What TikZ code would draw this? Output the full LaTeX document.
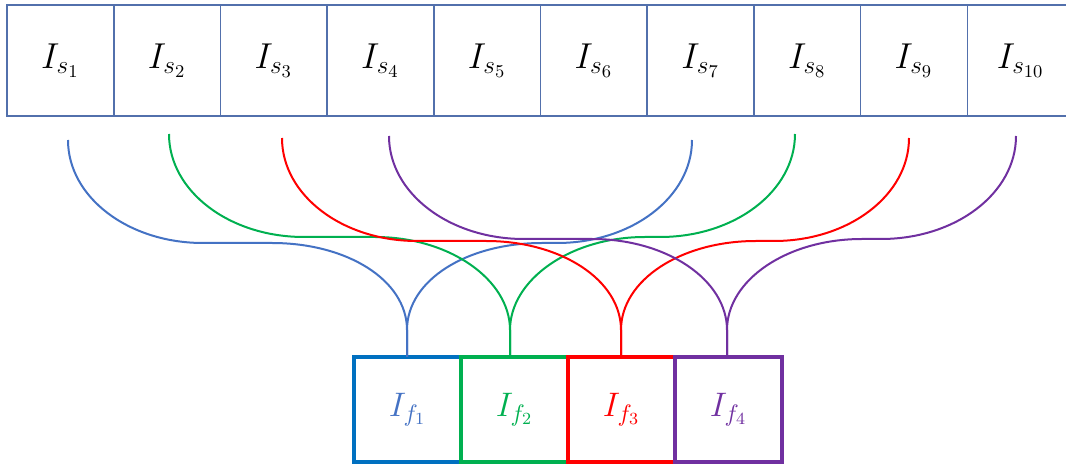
\RequirePackage{fix-cm}
\documentclass[tikz,border=0pt]{standalone}
\usepackage{tikz}
\usetikzlibrary{calc}

\begin{document}
\begin{tikzpicture}[
    x=0.5pt, y=-0.5pt,
    every node/.style={font=\fontsize{18}{21}\selectfont},
]
% Colors
\definecolor{rowstroke}{RGB}{82,112,172}
\definecolor{fblue}{RGB}{0,112,192}
\definecolor{lblue}{RGB}{68,114,196}
\definecolor{fgreen}{RGB}{0,176,80}
\definecolor{fred}{RGB}{255,0,0}
\definecolor{fpurple}{RGB}{112,48,160}
% ============================================================
% Styles
% ============================================================
\tikzset{
    sbox/.style={
        draw=rowstroke,
        line width=0.8pt,
        minimum width=53.35pt,
        minimum height=55.5pt,
        inner sep=0pt,
        outer sep=0pt,
    },
    fbox/.style={
        line width=1.8pt,
        minimum width=53.5pt,
        minimum height=52.5pt,
        inner sep=0pt,
        outer sep=0pt,
        font=\fontsize{17}{20}\selectfont,
    },
    link/.style={line width=1pt},
}
\useasboundingbox (0,0) rectangle (1066,464);
\clip (0,0) rectangle (1066,464);

% ============================================================
% Top row: I_s1 ... I_s10
% ============================================================
\foreach \i in {1,...,10} {
    \node[sbox] (s\i) at ({7+106.7*(\i-0.5)}, 60.5) {$I_{s_{\i}}$};
}

% ============================================================
% Bottom row: I_f1 ... I_f4
% ============================================================
\foreach \i/\bc/\tc in {1/fblue/lblue, 2/fgreen/fgreen, 3/fred/fred, 4/fpurple/fpurple} {
    \node[fbox, draw=\bc, text=\tc] (f\i) at ({354+107*(\i-0.5)}, 409.5) {$I_{f_{\i}}$};
}

% ============================================================
% Links: two branches meet above each I_f box
% ============================================================
\foreach \n/\col/\xt/\yt/\yf/\xc/\f/\dir in {
    bl/lblue/68/140/243/407/f1/1,
    br/lblue/692/140/243/407/f1/-1,
    gl/fgreen/169/134/237/510/f2/1,
    gr/fgreen/795/134/237/510/f2/-1,
    rl/fred/282/138/241/621/f3/1,
    rr/fred/909/138/241/621/f3/-1,
    pl/fpurple/389/136/239/727/f4/1,
    pr/fpurple/1016/136/239/727/f4/-1} {
    \coordinate (\n) at (\xt,\yt);
    \draw[link, \col] (\n)
        .. controls +(0,57) and +({-75*\dir},0) .. ({\xt+135*\dir},\yf)
        -- ({\xc-135*\dir},\yf)
        .. controls +({75*\dir},0) and +(0,-50) .. (\xc,330)
        -- (\xc,0 |- \f.north);
}
\end{tikzpicture}
\end{document}
